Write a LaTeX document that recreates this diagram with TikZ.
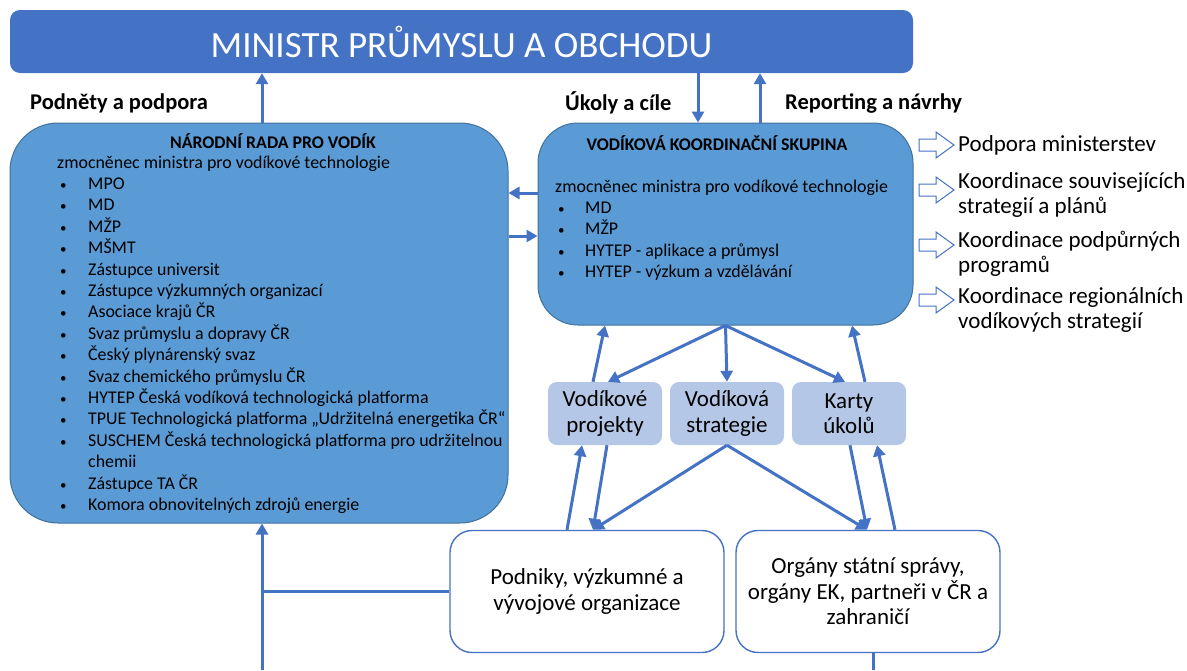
\documentclass[tikz,border=0pt]{standalone}
\usepackage{fontspec}
\setmainfont{Carlito}
\usetikzlibrary{arrows.meta,positioning}
\definecolor{ministr}{HTML}{4472C4}
\definecolor{rada}{HTML}{5B9BD5}
\definecolor{radaline}{HTML}{41719C}
\definecolor{vystup}{HTML}{B4C7E7}
\newcommand{\bul}{\hspace{3pt}{\fontsize{13}{13}\selectfont\textbullet}}

\begin{document}
\begin{tikzpicture}[x=1pt,y=-1pt]
  \tikzstyle{every node}=[inner sep=0pt]
  \tikzstyle{topbox}=[fill=ministr,rounded corners=10pt,minimum width=903pt,
                      minimum height=63pt,text=white,font=\fontsize{37}{44}\selectfont]
  \tikzstyle{groupbox}=[draw=radaline,fill=rada,line width=1pt]
  \tikzstyle{grouptitle}=[font=\bfseries\fontsize{17.8}{20}\selectfont]
  \tikzstyle{members}=[anchor=north west,font=\fontsize{17.9}{21.4}\selectfont]
  \tikzstyle{resultbox}=[fill=vystup,rounded corners=9pt,minimum width=114pt,
                         minimum height=63pt,align=center,font=\fontsize{23}{25.5}\selectfont]
  \tikzstyle{partnerbox}=[draw=ministr,line width=1.4pt,fill=white,rounded corners=22pt,
                          minimum height=122pt,align=center,font=\fontsize{23}{25.5}\selectfont]
  \tikzstyle{headline}=[anchor=west,font=\bfseries\fontsize{22.5}{26}\selectfont]
  \tikzstyle{goal}=[anchor=west,align=left,font=\fontsize{23}{25}\selectfont]
  \tikzstyle{link}=[draw=ministr,line width=3pt]
  \tikzstyle{flow}=[link,-{Triangle[length=11pt,width=12pt]}]
  \useasboundingbox (0,0) rectangle (1187,670);

  \node (ministr) [topbox] at (461.5,41.5) {MINISTR PRŮMYSLU A OBCHODU};
  \node [headline] at (30,103) {Podněty a podpora};
  \node [headline] at (565,103) {Úkoly a cíle};
  \node [headline] at (785,103) {Reporting a návrhy};

  \node (rada) [groupbox,rounded corners=48pt,minimum width=498pt,minimum height=400pt]
        at (259,323) {};
  \node (radatitle) [grouptitle] at (273,141) {NÁRODNÍ RADA PRO VODÍK};
  \node (radaclenove) [members] at (57,153) {\begin{tabular}{@{}p{31pt}@{}l@{}}
      \multicolumn{2}{@{}l@{}}{zmocněnec ministra pro vodíkové technologie}\\
      \bul & MPO\\
      \bul & MD\\
      \bul & MŽP\\
      \bul & MŠMT\\
      \bul & Zástupce universit\\
      \bul & Zástupce výzkumných organizací\\
      \bul & Asociace krajů ČR\\
      \bul & Svaz průmyslu a dopravy ČR\\
      \bul & Český plynárenský svaz\\
      \bul & Svaz chemického průmyslu ČR\\
      \bul & HYTEP Česká vodíková technologická platforma\\
      \bul & TPUE Technologická platforma „Udržitelná energetika ČR“\\
      \bul & SUSCHEM Česká technologická platforma pro udržitelnou\\
           & chemii\\
      \bul & Zástupce TA ČR\\
      \bul & Komora obnovitelných zdrojů energie
    \end{tabular}};

  \node (skupina) [groupbox,rounded corners=40pt,minimum width=375pt,minimum height=202pt]
        at (725.5,224) {};
  \node (skupinatitle) [grouptitle] at (717,143) {VODÍKOVÁ KOORDINAČNÍ SKUPINA};
  \node (skupinaclenove) [members] at (555,177) {\begin{tabular}{@{}p{30pt}@{}l@{}}
      \multicolumn{2}{@{}l@{}}{zmocněnec ministra pro vodíkové technologie}\\
      \bul & MD\\
      \bul & MŽP\\
      \bul & HYTEP - aplikace a průmysl\\
      \bul & HYTEP - výzkum a vzdělávání
    \end{tabular}};

  \foreach \y in {145,190,245,300}
    \draw[draw=ministr,fill=white,line width=1pt] (919,\y-6) -- (936,\y-6) -- (936,\y-13)
      -- (954,\y) -- (936,\y+13) -- (936,\y+6) -- (919,\y+6) -- cycle;
  \node (podpora) [goal] at (958,145) {Podpora ministerstev};
  \node (strategie) [goal] at (958,194.5) {Koordinace souvisejících\\strategií a plánů};
  \node (programy) [goal] at (958,253.5) {Koordinace podpůrných\\programů};
  \node (regiony) [goal] at (958,309.5) {Koordinace regionálních\\vodíkových strategií};

  \node (proj) [resultbox] at (605,413.5) {Vodíkové\\projekty};
  \node (strat) [resultbox] at (727,413.5) {Vodíková\\strategie};
  \node (karty) [resultbox] at (849,413.5) {Karty\\úkolů};

  \node (podniky) [partnerbox,minimum width=274pt] at (587,591.5)
        {Podniky, výzkumné a\\vývojové organizace};
  \node (organy) [partnerbox,minimum width=264pt] at (868,591.5)
        {Orgány státní správy,\\orgány EK, partneři v ČR a\\zahraničí};

  \draw[flow] (262,0 |- rada.north) -- (262,0 |- ministr.south);
  \draw[flow] (698,0 |- ministr.south) -- (698,0 |- skupina.north);
  \draw[flow] (760,0 |- skupina.north) -- (760,0 |- ministr.south);
  \draw[flow] (skupina.west |- 0,193) -- (rada.east |- 0,193);
  \draw[flow] (rada.east |- 0,236) -- (skupina.west |- 0,236);

  \draw[flow] (skupina.south) -- (608,0 |- proj.north);
  \draw[flow] (skupina.south) -- (strat.north);
  \draw[flow] (skupina.south) -- (845,0 |- karty.north);
  \draw[flow] (593,0 |- proj.north) -- (605,0 |- skupina.south);
  \draw[flow] (865,0 |- karty.north) -- (852,0 |- skupina.south);

  \draw[flow] (607,0 |- proj.south) -- (593,0 |- podniky.north);
  \draw[flow] (567,0 |- podniky.north) -- (582,0 |- proj.south);
  \draw[flow] (strat.south) -- (593,0 |- podniky.north);
  \draw[flow] (strat.south) -- (867,0 |- organy.north);
  \draw[flow] (850,0 |- karty.south) -- (867,0 |- organy.north);
  \draw[flow] (895,0 |- organy.north) -- (877,0 |- karty.south);

  \coordinate (doleleft) at (262,670);
  \coordinate (doleright) at (873,670);
  \draw[flow] (doleleft) -- (262,0 |- rada.south);
  \draw[link] (262,0 |- podniky.west) -- (podniky.west);
  \draw[link] (873,0 |- organy.south) -- (doleright);
\end{tikzpicture}
\end{document}
